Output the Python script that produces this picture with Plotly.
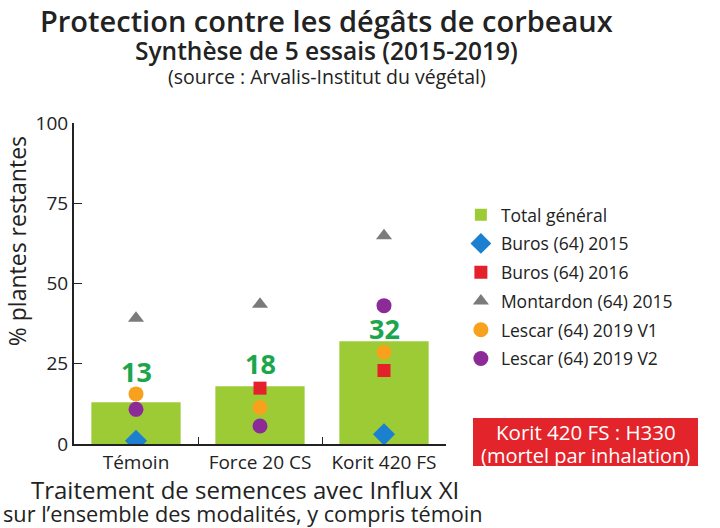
import plotly.graph_objects as go

categories = ["Témoin", "Force 20 CS", "Korit 420 FS"]
total_general = [13, 18, 32]
buros_2015 = [1.0, None, 3.0]
buros_2016 = [None, 17.4, 22.9]
montardon_2015 = [39.2, 43.5, 64.9]
lescar_2019_v1 = [15.6, 11.4, 28.6]
lescar_2019_v2 = [10.8, 5.6, 43.1]
bar_labels = ["13", "18", "32"]
label_shift = [31, 23, 13]
y_ticks = [0, 25, 50, 75, 100]

FONT = "Open Sans"
INK = "#222222"

fig = go.Figure()
fig.add_trace(go.Bar(x=categories, y=total_general, name="Total général",
                     legendgroup="g0",
                     marker=dict(color="#9dcb36", line=dict(width=0)), width=0.72))
point_series = [
    ("Buros (64) 2015", buros_2015, "diamond", "#1a80cf", 17),
    ("Buros (64) 2016", buros_2016, "square", "#e4202a", 13),
    ("Montardon (64) 2015", montardon_2015, "triangle-up", "#7b7b7b", 14),
    ("Lescar (64) 2019 V1", lescar_2019_v1, "circle", "#f7a11c", 15),
    ("Lescar (64) 2019 V2", lescar_2019_v2, "circle", "#8c2b98", 15),
]
for i, (name, vals, sym, col, size) in enumerate(point_series):
    fig.add_trace(go.Scatter(x=categories, y=vals, name=name, mode="markers",
                             legendgroup=f"g{i+1}",
                             marker=dict(symbol=sym, color=col, size=size, line=dict(width=0))))

for cat, v, lab, sh in zip(categories, total_general, bar_labels, label_shift):
    fig.add_annotation(x=cat, y=v, text=f"<b>{lab}</b>", showarrow=False, yshift=sh,
                       font=dict(family=FONT, size=27, color="#1ca64c"))

# Titles
fig.add_annotation(xref="paper", yref="paper", x=0.68, y=1.318, xanchor="center", yanchor="middle",
                   text="Protection contre les dégâts de corbeaux", showarrow=False,
                   font=dict(family=FONT, size=29, color=INK, weight=600))
fig.add_annotation(xref="paper", yref="paper", x=0.68, y=1.227, xanchor="center", yanchor="middle",
                   text="Synthèse de 5 essais (2015-2019)", showarrow=False,
                   font=dict(family=FONT, size=24.5, color=INK, weight=600))
fig.add_annotation(xref="paper", yref="paper", x=0.68, y=1.146, xanchor="center", yanchor="middle",
                   text="(source : Arvalis-Institut du végétal)", showarrow=False,
                   font=dict(family=FONT, size=19.5, color=INK))
# Axis titles
fig.add_annotation(xref="paper", yref="paper", x=-0.153, y=0.632, xanchor="center", yanchor="middle",
                   textangle=-90, text="% plantes restantes", showarrow=False,
                   font=dict(family=FONT, size=23, color=INK))
fig.add_annotation(xref="paper", yref="paper", x=0.46, y=-0.143, xanchor="center", yanchor="middle",
                   text="Traitement de semences avec Influx XI", showarrow=False,
                   font=dict(family=FONT, size=24, color=INK))
fig.add_annotation(xref="paper", yref="paper", x=0.455, y=-0.218, xanchor="center", yanchor="middle",
                   text="sur l’ensemble des modalités, y compris témoin", showarrow=False,
                   font=dict(family=FONT, size=21.7, color=INK))
# Red warning box
fig.add_shape(type="rect", xref="paper", yref="paper", x0=1.0726, x1=1.6774, y0=-0.0685, y1=0.081,
              fillcolor="#e3242b", line=dict(width=0), layer="above")
fig.add_annotation(xref="paper", yref="paper", x=1.375, y=0.0374, xanchor="center", yanchor="middle",
                   text="Korit 420 FS : H330", showarrow=False,
                   font=dict(family=FONT, size=20.5, color="white"))
fig.add_annotation(xref="paper", yref="paper", x=1.375, y=-0.0343, xanchor="center", yanchor="middle",
                   text="(mortel par inhalation)", showarrow=False,
                   font=dict(family=FONT, size=20, color="white"))

fig.update_layout(
    width=720, height=528,
    margin=dict(l=74, r=274, t=123, b=84),
    plot_bgcolor="white", paper_bgcolor="white",
    font=dict(family=FONT, color=INK),
    showlegend=True,
    legend=dict(x=1.04, y=0.77, xanchor="left", yanchor="top",
                font=dict(family=FONT, size=17.5, color=INK),
                itemsizing="trace", tracegroupgap=3, bgcolor="rgba(0,0,0,0)"),
    xaxis=dict(range=[-0.5, 2.5], showline=True, linecolor=INK, linewidth=2,
               ticks="inside", tickson="boundaries", ticklen=7, tickcolor=INK,
               tickfont=dict(family=FONT, size=19, color=INK), showgrid=False),
    yaxis=dict(range=[0, 100], tickvals=y_ticks, showline=True, linecolor=INK,
               linewidth=2, ticks="inside", ticklen=8, tickcolor=INK,
               tickfont=dict(family=FONT, size=19, color=INK), showgrid=False,
               zeroline=False),
)
fig.write_html("out.html", config={"displayModeBar": False},
               post_script="document.body.style.margin='0';")
